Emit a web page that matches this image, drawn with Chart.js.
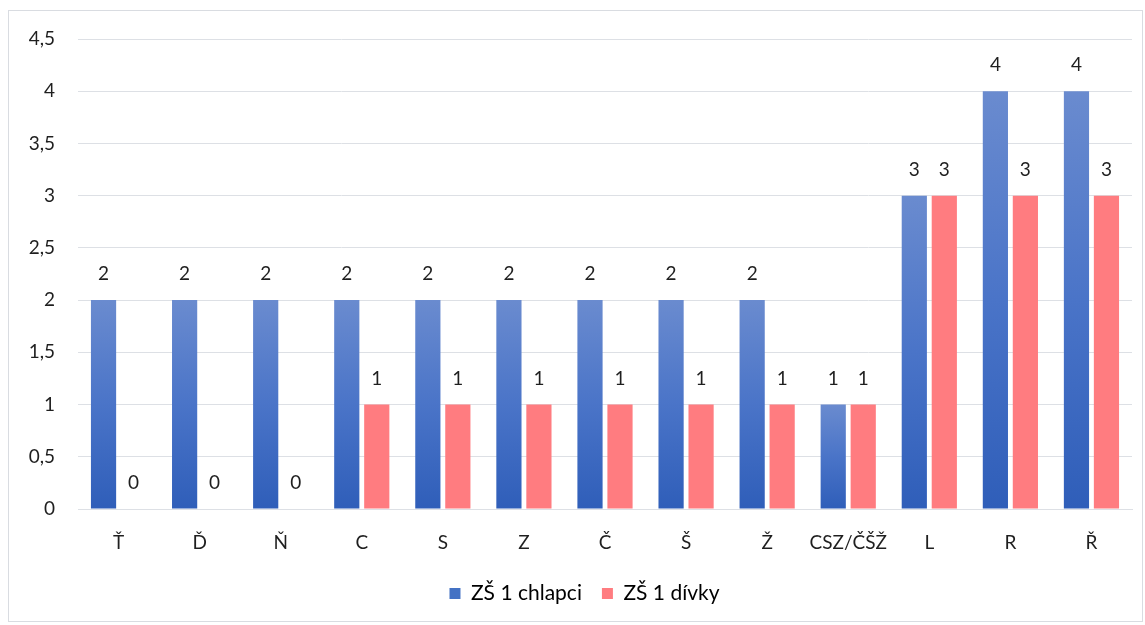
<!DOCTYPE html>
<html lang="cs">
<head>
<meta charset="utf-8">
<script src="https://cdn.jsdelivr.net/npm/chart.js@4.4.1/dist/chart.umd.min.js"></script>
<style>
  html, body { margin: 0; padding: 0; background: #fff; }
  #frame {
    position: absolute; left: 8px; top: 10px;
    width: 1135px; height: 612px;
    border: 1px solid #d9dce1; box-sizing: border-box;
  }
  #frame canvas { display: block; }
</style>
</head>
<body>
<div id="frame"><canvas id="c" width="1133" height="610"></canvas></div>
<script>
// Hlásky a počty dětí se špatnou výslovností
const categories = ['Ť', 'Ď', 'Ň', 'C', 'S', 'Z', 'Č', 'Š', 'Ž', 'CSZ/ČŠŽ', 'L', 'R', 'Ř'];
const boys  = [2, 2, 2, 2, 2, 2, 2, 2, 2, 1, 3, 4, 4];
const girls = [0, 0, 0, 1, 1, 1, 1, 1, 1, 1, 3, 3, 3];
const seriesNames = ['ZŠ 1 chlapci', 'ZŠ 1 dívky'];
const yTicks = [0, 0.5, 1, 1.5, 2, 2.5, 3, 3.5, 4, 4.5];

const FONT = 'Lato, "Open Sans", sans-serif';
const FS = 19;
const LEGEND_FS = 21;
const TEXT = '#1f1f1f';
const GRID = '#dde0e5';

// Blue bars: vertical gradient from light top to deeper bottom, per bar
function blueGradient(ctx) {
  const chart = ctx.chart;
  if (ctx.type !== 'data') return '#4472c4';
  const y = chart.scales.y;
  if (!y) return '#4472c4';
  const top = y.getPixelForValue(ctx.raw);
  const bottom = y.getPixelForValue(0);
  if (!isFinite(top) || !isFinite(bottom) || top === bottom) return '#4472c4';
  const g = chart.ctx.createLinearGradient(0, top, 0, bottom);
  g.addColorStop(0, '#6a8bcf');
  g.addColorStop(0.5, '#4a74c8');
  g.addColorStop(1, '#2f5eb9');
  return g;
}

// Value labels above every bar
const valueLabels = {
  id: 'valueLabels',
  afterDatasetsDraw(chart) {
    const ctx = chart.ctx;
    ctx.save();
    ctx.font = FS + 'px ' + FONT;
    ctx.fillStyle = TEXT;
    ctx.textAlign = 'center';
    ctx.textBaseline = 'middle';
    chart.data.datasets.forEach((ds, i) => {
      const meta = chart.getDatasetMeta(i);
      meta.data.forEach((bar, j) => {
        ctx.fillText(String(ds.data[j]), bar.x, bar.y - 26);
      });
    });
    ctx.restore();
  }
};

// Legend sits centred under the plot area rather than the whole canvas
const legendShift = {
  id: 'legendShift',
  afterLayout(chart) {
    if (!chart.legend) return;
    chart.legend.left += 14;
    chart.legend.right += 14;
  }
};

new Chart(document.getElementById('c'), {
  type: 'bar',
  data: {
    labels: categories,
    datasets: [
      { label: seriesNames[0], data: boys, backgroundColor: blueGradient,
        categoryPercentage: 0.74, barPercentage: 0.84 },
      { label: seriesNames[1], data: girls, backgroundColor: '#ff7c80',
        categoryPercentage: 0.74, barPercentage: 0.84 }
    ]
  },
  options: {
    responsive: false,
    animation: false,
    devicePixelRatio: 1,
    layout: { padding: { left: 0, right: 10, top: 28, bottom: 7 } },
    scales: {
      x: {
        grid: { display: false, drawTicks: false },
        border: { color: GRID, width: 1 },
        afterFit(scale) { scale.height = 54; },
        ticks: { color: TEXT, font: { family: FONT, size: FS }, padding: 22, maxRotation: 0, autoSkip: false }
      },
      y: {
        min: 0, max: 4.5,
        afterBuildTicks(scale) { scale.ticks = yTicks.map(v => ({ value: v })); },
        afterFit(scale) {
          scale.width = 69;
          scale.paddingTop = 0;
          scale.paddingBottom = 0;
        },
        grid: { color: GRID, lineWidth: 1, drawTicks: false },
        border: { display: false },
        ticks: {
          color: TEXT, font: { family: FONT, size: FS }, padding: 23,
          callback: v => String(v).replace('.', ',')
        }
      }
    },
    plugins: {
      legend: {
        position: 'bottom',
        labels: {
          color: TEXT, font: { family: FONT, size: LEGEND_FS },
          boxWidth: 11, boxHeight: 11, padding: 20,
          generateLabels(chart) {
            const cols = ['#4472c4', '#ff7c80'];
            return chart.data.datasets.map((ds, i) => ({
              text: ds.label, fillStyle: cols[i], strokeStyle: cols[i],
              lineWidth: 0, datasetIndex: i, hidden: false
            }));
          }
        }
      },
      tooltip: { enabled: false }
    }
  },
  plugins: [valueLabels, legendShift]
});
</script>
</body>
</html>
